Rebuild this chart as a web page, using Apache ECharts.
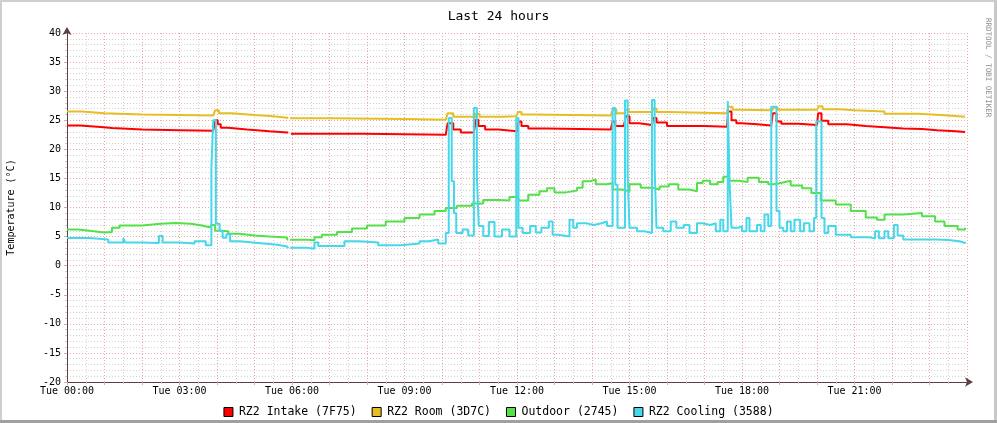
<!DOCTYPE html>
<html>
<head>
<meta charset="utf-8">
<script src="https://cdn.jsdelivr.net/npm/echarts@6/dist/echarts.min.js"></script>
<style>
html,body{margin:0;padding:0;background:#fff;}
#chart{width:997px;height:423px;}
</style>
</head>
<body>
<div id="chart"></div>
<script>
// Hours since Tue 00:00, temperature in °C
const intake = [[0,24.1],[0.35,23.85],[0.9,23.65],[1.2,23.4],[2.0,23.3],[3.0,23.2],[3.9,23.1],[3.95,25.0],[4.02,24.3],[4.1,23.7],[4.3,23.4],[4.8,23.1],[5.4,22.9],[5.87,22.9],[5.9,null],[5.97,22.7],[7.9,22.5],[10.1,22.5],[10.15,24.5],[10.3,23.4],[10.5,22.9],[10.85,22.9],[10.9,25.1],[10.97,24.0],[11.15,23.4],[11.5,23.1],[12.0,23.1],[12.05,24.8],[12.12,24.0],[12.3,23.6],[12.8,23.4],[14.5,23.3],[14.55,24.8],[14.62,24.0],[14.85,23.9],[14.9,25.7],[15.0,24.5],[15.25,24.2],[15.6,24.2],[15.63,25.4],[15.72,24.6],[16.0,24.0],[17.0,23.9],[17.6,23.9],[17.63,26.5],[17.72,25.0],[17.85,24.5],[18.0,24.3],[18.4,24.1],[18.78,24.2],[18.82,26.2],[18.92,24.8],[19.05,24.4],[19.5,24.2],[20.0,24.1],[20.03,26.2],[20.12,24.9],[20.3,24.3],[20.8,24.0],[21.3,23.8],[21.8,23.6],[22.3,23.5],[22.8,23.3],[23.2,23.1],[23.7,23.0],[23.95,23.0]];

const room = [[0,26.5],[0.4,26.2],[1.0,26.0],[2.0,25.9],[3.0,25.8],[3.9,25.7],[3.95,26.7],[4.05,26.2],[4.4,25.9],[5.0,25.7],[5.5,25.45],[5.87,25.35],[5.9,null],[5.95,25.35],[7.0,25.2],[9.0,25.1],[10.1,25.0],[10.15,26.2],[10.3,25.6],[10.8,25.4],[10.88,26.1],[11.0,25.6],[11.6,25.7],[11.98,25.6],[12.03,26.4],[12.12,26.0],[12.4,25.8],[14.5,25.8],[14.55,26.8],[14.65,26.2],[14.88,26.8],[14.98,26.4],[15.6,26.4],[15.63,27.0],[15.72,26.4],[16.0,26.2],[17.6,26.1],[17.63,27.3],[17.75,26.8],[18.0,26.7],[18.8,26.7],[18.85,27.2],[18.95,26.8],[20.0,26.6],[20.05,27.4],[20.15,26.9],[20.6,26.7],[21.0,26.5],[21.8,26.1],[22.7,25.85],[23.4,25.6],[23.95,25.5]];

const outdoor = [[0,6.2],[0.3,6.0],[0.6,5.7],[1.0,5.8],[1.2,6.5],[1.4,6.9],[2.0,7.2],[2.5,7.35],[2.9,7.2],[3.3,6.9],[3.6,6.6],[3.8,6.4],[3.85,7.0],[3.95,6.0],[4.1,5.9],[4.3,5.5],[4.6,5.2],[5.0,5.0],[5.4,4.85],[5.87,4.5],[5.9,null],[5.95,4.45],[6.4,4.35],[6.6,4.9],[6.8,5.3],[7.2,5.8],[7.6,6.4],[8.0,6.9],[8.5,7.6],[9.0,8.2],[9.4,8.8],[9.8,9.4],[10.1,9.9],[10.4,10.3],[10.8,10.7],[11.1,11.3],[11.5,11.2],[11.8,11.8],[12.0,12.2],[12.05,11.2],[12.3,12.2],[12.6,12.8],[12.8,13.3],[13.0,12.6],[13.3,12.9],[13.6,13.4],[13.75,14.5],[13.95,14.8],[14.1,14.0],[14.4,14.2],[14.55,13.1],[14.8,12.8],[15.0,14.0],[15.3,13.4],[15.6,13.1],[15.8,13.6],[16.05,14.0],[16.3,13.1],[16.6,12.8],[16.8,14.2],[16.95,14.6],[17.15,14.0],[17.35,14.4],[17.5,15.3],[17.65,14.6],[17.9,14.4],[18.15,15.1],[18.45,14.4],[18.7,14.0],[18.85,14.3],[19.1,14.6],[19.3,13.8],[19.6,13.3],[19.85,12.5],[20.1,11.2],[20.5,10.5],[20.9,9.4],[21.3,8.3],[21.6,7.9],[21.8,8.8],[22.3,9.05],[22.8,8.5],[23.15,7.6],[23.4,6.8],[23.75,6.2],[23.95,6.5]];

const cooling = [[0,4.75],[0.6,4.5],[1.1,4.0],[1.5,4.75],[1.55,4.0],[2.0,3.9],[2.45,5.1],[2.55,4.0],[3.0,3.8],[3.4,4.2],[3.7,3.5],[3.85,17.0],[3.9,25.0],[3.97,7.2],[4.07,6.0],[4.15,4.8],[4.25,5.4],[4.35,4.2],[4.6,3.9],[5.1,3.6],[5.6,3.3],[5.87,3.0],[5.9,null],[5.95,3.1],[6.4,2.9],[6.6,4.0],[6.7,3.4],[7.4,4.2],[7.8,4.0],[8.3,3.5],[8.9,3.8],[9.4,4.2],[9.65,4.5],[9.9,3.8],[10.1,5.6],[10.18,25.4],[10.26,14.5],[10.32,9.0],[10.38,5.6],[10.55,6.2],[10.7,5.2],[10.85,27.1],[10.93,15.3],[10.98,6.8],[11.1,5.1],[11.25,7.5],[11.4,5.0],[11.6,6.2],[11.8,5.0],[11.98,25.4],[12.04,6.5],[12.15,5.6],[12.35,6.8],[12.5,5.7],[12.65,6.5],[12.85,7.6],[12.95,5.3],[13.1,5.0],[13.4,7.9],[13.5,6.5],[13.6,7.3],[13.85,7.0],[14.05,7.3],[14.25,7.6],[14.4,6.8],[14.55,27.1],[14.62,13.9],[14.68,6.5],[14.88,28.4],[14.95,15.6],[15.0,6.5],[15.2,5.9],[15.4,5.6],[15.6,28.5],[15.67,16.8],[15.72,6.5],[15.9,5.9],[16.1,7.6],[16.25,6.5],[16.45,7.0],[16.6,5.6],[16.8,7.3],[16.95,7.0],[17.15,7.3],[17.3,5.9],[17.42,7.9],[17.5,5.9],[17.62,28.3],[17.67,14.0],[17.72,6.5],[17.9,6.8],[18.0,5.9],[18.12,8.2],[18.2,5.9],[18.4,7.0],[18.5,5.9],[18.6,8.8],[18.7,6.8],[18.78,27.3],[18.92,9.4],[19.0,6.5],[19.1,5.9],[19.2,7.6],[19.3,5.9],[19.4,7.9],[19.55,5.9],[19.65,7.3],[19.8,5.9],[19.92,8.2],[19.98,24.8],[20.12,8.2],[20.2,5.6],[20.3,6.8],[20.5,5.3],[20.9,4.9],[21.4,4.65],[21.55,5.9],[21.65,4.7],[21.8,5.9],[21.9,4.7],[22.05,7.0],[22.15,5.2],[22.3,4.5],[23.2,4.4],[23.5,4.2],[23.8,3.9],[23.95,4.1]];

const seriesNames = ['RZ2 Intake (7F75)', 'RZ2 Room (3D7C)', 'Outdoor (2745)', 'RZ2 Cooling (3588)'];
const seriesData = [intake, room, outdoor, cooling];
const seriesColors = ['#FF0000', '#E6BE23', '#54E048', '#46D7EB'];

const FONT = 'DejaVu Sans Mono';
const chart = echarts.init(document.getElementById('chart'), null, {renderer: 'canvas'});

function pad(n){ return (n < 10 ? '0' : '') + n; }

const option = {
  animation: false,
  backgroundColor: '#ffffff',
  title: {
    text: 'Last 24 hours',
    left: 'center',
    top: 5,
    textStyle: {fontFamily: FONT, fontSize: 13, fontWeight: 'normal', color: '#000'}
  },
  grid: {left: 67, right: 30, top: 33, bottom: 41, containLabel: false, outerBoundsMode: 'none'},
  legend: {
    top: 401,
    left: 'center',
    itemWidth: 9,
    itemHeight: 9,
    itemGap: 15,
    icon: 'rect',
    data: seriesNames.map((n, i) => ({name: n, itemStyle: {color: seriesColors[i], borderColor: '#000', borderWidth: 1}})),
    textStyle: {fontFamily: FONT, fontSize: 11.5, color: '#000', padding: [0, 0, 0, 1]}
  },
  xAxis: {
    type: 'value',
    min: 0,
    max: 24,
    interval: 1,
    axisLine: {show: true, onZero: false, lineStyle: {color: '#5a4040', width: 1}, symbol: ['none', 'arrow'], symbolSize: [7, 8], symbolOffset: [0, 6]},
    axisTick: {show: true, length: 3, lineStyle: {color: '#E6A4A4'}},
    minorTick: {show: true, splitNumber: 2, length: 2, lineStyle: {color: '#CCCCCC'}},
    axisLabel: {
      fontFamily: FONT, fontSize: 10, color: '#000', margin: 4,
      showMaxLabel: false,
      formatter: function (v) { return (v % 3 === 0 && v < 24) ? 'Tue ' + pad(v) + ':00' : ''; }
    },
    splitLine: {show: true, lineStyle: {color: '#E8A8A8', type: [1, 2], width: 1}},
    minorSplitLine: {show: true, lineStyle: {color: '#D2D2D2', type: [1, 2], width: 1}}
  },
  yAxis: {
    type: 'value',
    min: -20,
    max: 40,
    interval: 5,
    name: 'Temperature (°C)',
    nameLocation: 'middle',
    nameGap: 51,
    nameRotate: 90,
    nameTextStyle: {fontFamily: FONT, fontSize: 10, color: '#000'},
    axisLine: {show: true, onZero: false, lineStyle: {color: '#5a4040', width: 1}, symbol: ['none', 'arrow'], symbolSize: [7, 8], symbolOffset: [0, 6]},
    axisTick: {show: true, length: 3, lineStyle: {color: '#E6A4A4'}},
    minorTick: {show: true, splitNumber: 5, length: 2, lineStyle: {color: '#CCCCCC'}},
    axisLabel: {fontFamily: FONT, fontSize: 10, color: '#000', margin: 6},
    splitLine: {show: true, lineStyle: {color: '#E8A8A8', type: [1, 2], width: 1}},
    minorSplitLine: {show: true, lineStyle: {color: '#D2D2D2', type: [1, 2], width: 1}}
  },
  series: seriesData.map((d, i) => ({
    name: seriesNames[i],
    type: 'line',
    step: 'end',
    data: d,
    showSymbol: false,
    symbol: 'none',
    connectNulls: false,
    color: seriesColors[i],
    lineStyle: {color: seriesColors[i], width: 2},
    z: 2 + i
  })),
  graphic: [
    {type: 'rect', shape: {x: 0, y: 0, width: 997, height: 2}, style: {fill: '#CFCFCF'}, silent: true},
    {type: 'rect', shape: {x: 0, y: 0, width: 2, height: 423}, style: {fill: '#CFCFCF'}, silent: true},
    {type: 'rect', shape: {x: 994, y: 0, width: 3, height: 423}, style: {fill: '#C8C8C8'}, silent: true},
    {type: 'rect', shape: {x: 0, y: 420, width: 997, height: 3}, style: {fill: '#A0A0A0'}, silent: true},
    {
      type: 'text',
      x: 988,
      y: 18,
      rotation: -Math.PI / 2,
      silent: true,
      style: {text: 'RRDTOOL / TOBI OETIKER', fontFamily: FONT, fontSize: 7.5, fill: '#8E8E8E', align: 'left', verticalAlign: 'middle'}
    }
  ]
};
chart.setOption(option);
</script>
</body>
</html>
